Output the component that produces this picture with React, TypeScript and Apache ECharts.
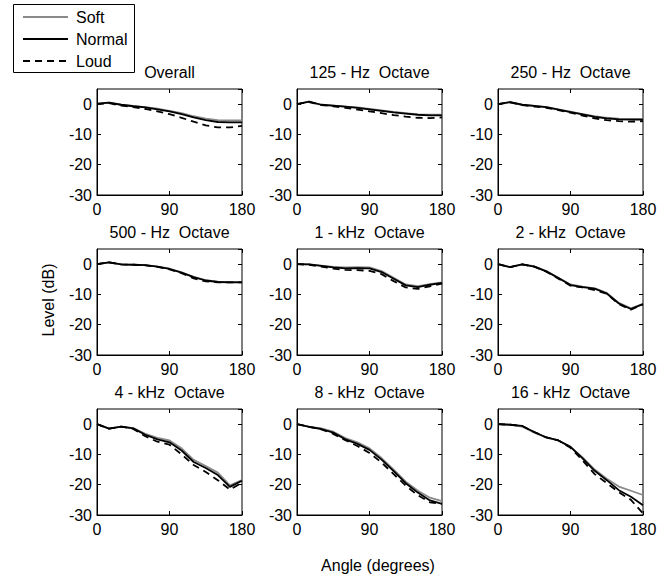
import React, { useEffect, useRef } from "react";
import * as echarts from "echarts";

const angles = [0, 15, 30, 45, 60, 75, 90, 105, 120, 135, 150, 165, 180];
const panelTitles = [
  "Overall", "125 - Hz  Octave", "250 - Hz  Octave",
  "500 - Hz  Octave", "1 - kHz  Octave", "2 - kHz  Octave",
  "4 - kHz  Octave", "8 - kHz  Octave", "16 - kHz  Octave",
];
const legendNames = ["Soft", "Normal", "Loud"];
const xTicks = [0, 90, 180];
const yTicks = [-30, -20, -10, 0];

const softOverall = [0, 0.5, -0.2, -0.6, -1, -1.5, -2.2, -3.0, -4.0, -4.8, -5.3, -5.4, -5.4];
const normalOverall = [0.2, 0.5, -0.2, -0.7, -1.1, -1.7, -2.4, -3.3, -4.4, -5.3, -5.9, -6, -6];
const loudOverall = [0, 0.3, -0.5, -1.0, -1.6, -2.4, -3.3, -4.5, -5.8, -7.0, -7.7, -7.7, -7.2];

const soft125 = [0, 0.8, -0.2, -0.5, -0.8, -1.1, -1.6, -2.1, -2.6, -3.0, -3.4, -3.5, -3.5];
const normal125 = [0, 0.8, -0.2, -0.5, -0.8, -1.2, -1.7, -2.2, -2.7, -3.1, -3.5, -3.7, -3.7];
const loud125 = [0, 0.7, -0.3, -0.7, -1.2, -1.8, -2.4, -3.0, -3.6, -4.1, -4.5, -4.6, -4.4];

const soft250 = [0, 0.7, -0.2, -0.6, -1.0, -1.7, -2.5, -3.3, -4.0, -4.5, -4.8, -4.9, -4.9];
const normal250 = [0, 0.7, -0.2, -0.6, -1.0, -1.8, -2.6, -3.4, -4.2, -4.7, -5.0, -5.1, -5.1];
const loud250 = [0, 0.6, -0.3, -0.8, -1.2, -2.0, -2.8, -3.8, -4.7, -5.3, -5.6, -5.8, -5.6];

const soft500 = [0, 0.6, -0.1, -0.2, -0.3, -0.8, -1.5, -2.7, -4.2, -5.3, -5.8, -5.9, -5.9];
const normal500 = [0, 0.6, -0.1, -0.2, -0.3, -0.8, -1.6, -2.8, -4.3, -5.4, -5.9, -6, -6];
const loud500 = [0, 0.6, -0.1, -0.2, -0.4, -0.9, -1.7, -3.0, -4.7, -5.7, -6.0, -6, -6];

const soft1k = [0, -0.1, -0.5, -0.9, -1.1, -1.0, -1.1, -2.3, -4.5, -6.7, -7.3, -6.6, -6.0];
const normal1k = [0, -0.1, -0.6, -1.1, -1.4, -1.3, -1.4, -2.6, -4.8, -7.0, -7.6, -6.8, -6.2];
const loud1k = [0, -0.2, -0.8, -1.5, -1.9, -2.0, -2.2, -3.3, -5.6, -7.7, -8.2, -7.3, -6.4];

const soft2k = [0, -1.0, -0.1, -0.7, -2.3, -4.5, -6.7, -7.4, -8.0, -9.5, -12.8, -14.6, -13.1];
const normal2k = [0, -1.0, -0.1, -0.8, -2.4, -4.6, -6.9, -7.6, -8.1, -9.7, -13.0, -14.8, -13.2];
const loud2k = [0, -1.0, -0.1, -0.8, -2.5, -4.8, -7.1, -7.7, -8.6, -9.8, -13.2, -15.0, -13.3];

const soft4k = [0, -1.5, -0.8, -1.3, -3.2, -4.5, -5.4, -8.0, -11.8, -13.8, -16.0, -20.2, -18.5];
const normal4k = [0, -1.5, -0.8, -1.4, -3.5, -5.0, -6.0, -8.7, -12.5, -14.5, -16.8, -20.7, -18.7];
const loud4k = [0, -1.5, -0.8, -1.6, -4.0, -5.8, -6.8, -10.0, -13.5, -15.8, -18.5, -21.6, -19.3];

const soft8k = [0, -0.8, -1.4, -2.5, -4.6, -6.0, -8.0, -11.2, -15.0, -19.0, -22.0, -24.3, -25.4];
const normal8k = [0, -0.9, -1.6, -2.8, -5.0, -6.5, -8.5, -11.7, -15.5, -19.5, -22.6, -25.2, -26.3];
const loud8k = [0, -0.9, -1.7, -3.2, -5.3, -7.2, -9.5, -12.7, -16.5, -20.3, -23.5, -25.8, -26.3];

const soft16k = [0, -0.2, -0.8, -2.8, -4.4, -5.4, -7.5, -11.0, -15.0, -18.0, -20.6, -22.0, -23.4];
const normal16k = [0, -0.2, -0.6, -2.6, -4.4, -5.4, -7.5, -11.3, -15.4, -18.5, -21.8, -24.0, -26.8];
const loud16k = [0, -0.2, -0.6, -2.6, -4.4, -5.4, -7.8, -12.0, -16.5, -19.5, -22.5, -25.0, -29.5];

const softSets = [softOverall, soft125, soft250, soft500, soft1k, soft2k, soft4k, soft8k, soft16k];
const normalSets = [normalOverall, normal125, normal250, normal500, normal1k, normal2k, normal4k, normal8k, normal16k];
const loudSets = [loudOverall, loud125, loud250, loud500, loud1k, loud2k, loud4k, loud8k, loud16k];

const FONT = "Liberation Sans, Arial, sans-serif";
const FS = 16;

export default function App() {
  const ref = useRef<HTMLDivElement>(null);
  useEffect(() => {
    if (!ref.current) return;
    const chart = echarts.init(ref.current, undefined, { renderer: "svg" });
    const lefts = [97, 297, 498];
    const tops = [89, 249, 409];
    const W = 145;
    const H = 106;
    const grids: any[] = [];
    const xAxes: any[] = [];
    const yAxes: any[] = [];
    const series: any[] = [];
    const titles: any[] = [];
    const tickStyle = { show: true, inside: true, length: 4, lineStyle: { color: "#000", width: 1 } };
    const styles = [
      { color: "#8a8a8a", type: "solid" as any },
      { color: "#000", type: "solid" as any },
      { color: "#000", type: [7, 5] as any },
    ];
    for (let i = 0; i < 9; i++) {
      const r = Math.floor(i / 3);
      const c = i % 3;
      grids.push({
        left: lefts[c], top: tops[r], width: W, height: H,
        show: true, borderColor: "#000", borderWidth: 1, backgroundColor: "transparent",
      });
      titles.push({
        text: panelTitles[i], left: lefts[c] + W / 2, top: tops[r] - 25, textAlign: "center",
        padding: 0,
        textStyle: { fontFamily: FONT, fontSize: FS, fontWeight: "normal", color: "#000" },
      });
      const xBase = {
        type: "value", gridIndex: i, min: xTicks[0], max: xTicks[2], interval: 90,
        splitLine: { show: false }, axisTick: tickStyle,
      };
      xAxes.push({
        ...xBase, position: "bottom",
        axisLine: { show: true, onZero: false, lineStyle: { color: "#000", width: 1 } },
        axisLabel: { show: true, color: "#000", fontFamily: FONT, fontSize: FS, margin: 6 },
      });
      xAxes.push({
        ...xBase, position: "top", axisLine: { show: false, onZero: false }, axisLabel: { show: false },
      });
      const yBase = {
        type: "value", gridIndex: i, min: yTicks[0], max: 5, interval: 10,
        splitLine: { show: false }, axisTick: tickStyle,
      };
      yAxes.push({
        ...yBase, position: "left",
        axisLine: { show: true, onZero: false, lineStyle: { color: "#000", width: 1 } },
        axisLabel: { show: true, showMaxLabel: false, color: "#000", fontFamily: FONT, fontSize: FS, margin: 5 },
      });
      yAxes.push({
        ...yBase, position: "right", axisLine: { show: false, onZero: false }, axisLabel: { show: false },
      });
      const sets = [softSets[i], normalSets[i], loudSets[i]];
      sets.forEach((vals, s) => {
        series.push({
          name: legendNames[s], type: "line", xAxisIndex: i * 2, yAxisIndex: i * 2, symbol: "none",
          data: angles.map((a, k) => [a, vals[k]]),
          lineStyle: { color: styles[s].color, width: 1.8, type: styles[s].type },
          itemStyle: { color: styles[s].color },
          z: 3,
        });
      });
    }
    const legendGraphics: any[] = [
      { type: "rect", shape: { x: 13.5, y: 4.5, width: 121, height: 68 }, style: { fill: "#fff", stroke: "#000", lineWidth: 1 }, z: 10 },
    ];
    legendNames.forEach((n, s) => {
      const y = 17 + s * 22;
      legendGraphics.push({
        type: "line", shape: { x1: 23, y1: y, x2: 68, y2: y },
        style: { stroke: styles[s].color, lineWidth: 1.8, lineDash: s === 2 ? [7, 5] : null }, z: 11,
      });
      legendGraphics.push({
        type: "text", x: 76, y,
        style: { text: n, fill: "#000", font: `${FS}px ${FONT}`, textAlign: "left", textVerticalAlign: "middle" }, z: 11,
      });
    });
    chart.setOption({
      animation: false,
      backgroundColor: "#fff",
      title: titles,
      grid: grids,
      xAxis: xAxes,
      yAxis: yAxes,
      series,
      graphic: [
        ...legendGraphics,
        {
          type: "text", x: 48, y: 300, rotation: Math.PI / 2,
          style: { text: "Level (dB)", fill: "#000", font: `${FS}px ${FONT}`, textAlign: "center", textVerticalAlign: "middle" },
        },
        {
          type: "text", x: 378, y: 565,
          style: { text: "Angle (degrees)", fill: "#000", font: `${FS}px ${FONT}`, textAlign: "center", textVerticalAlign: "middle" },
        },
      ],
    });
    return () => chart.dispose();
  }, []);
  return <div ref={ref} style={{ position: "absolute", left: 0, top: 0, width: 669, height: 578 }} />;
}
